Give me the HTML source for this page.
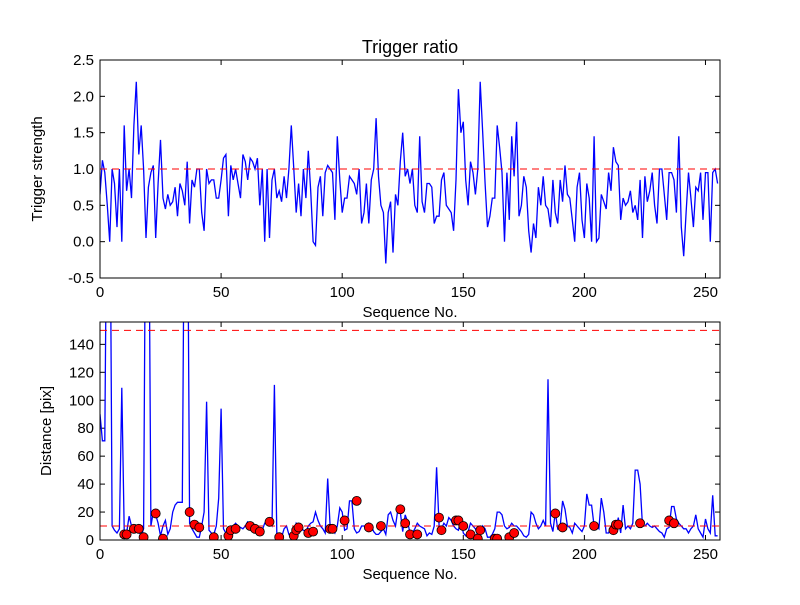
<!DOCTYPE html>
<html><head><meta charset="utf-8"><style>
body{margin:0;background:#fff}
svg{font-family:"Liberation Sans",sans-serif}
</style></head><body>
<svg id="chart" width="800" height="600" viewBox="0 0 800 600">
<rect width="800" height="600" fill="#fff"/>
</svg>
<script>
const trigStrength=[0.65,1.12,0.95,0.5,0.0,1.0,0.8,0.2,1.0,0.0,1.6,0.7,1.0,0.6,1.6,2.2,1.2,1.6,1.0,0.05,0.75,0.95,1.05,0.05,0.8,1.4,0.6,0.45,0.65,0.5,0.55,0.75,0.35,0.8,0.7,0.5,1.1,0.25,0.85,0.75,1.0,1.0,0.4,0.15,1.0,0.8,0.85,0.85,0.6,0.6,0.85,1.15,1.2,0.35,1.05,0.85,1.0,0.8,0.6,1.2,1.1,0.85,1.15,1.1,
1.0,1.15,0.5,1.0,0.0,1.0,0.05,0.85,1.0,0.6,0.7,0.55,0.9,0.6,1.0,1.6,1.0,0.4,0.8,0.35,1.0,0.6,1.25,0.7,0.0,-0.05,0.75,0.9,0.35,0.95,1.05,1.0,0.95,0.3,1.45,0.85,0.4,0.6,0.6,0.9,0.85,0.8,0.65,1.0,0.25,0.4,0.8,0.25,0.85,1.0,1.7,0.9,0.5,0.4,-0.3,0.4,0.55,-0.15,0.65,0.5,1.1,1.5,0.9,1.0,
0.8,1.0,0.5,0.4,1.45,0.55,0.4,0.8,0.8,0.75,0.25,0.35,0.35,0.85,0.95,0.5,0.45,0.4,0.15,0.85,2.1,1.5,1.65,0.85,0.5,1.1,0.95,0.65,1.0,2.2,1.5,0.8,0.2,0.35,0.6,0.6,1.6,1.3,0.95,0.0,0.95,0.3,1.45,0.9,1.65,0.35,0.5,0.9,0.75,0.15,-0.15,0.25,0.05,0.75,0.5,0.9,0.5,0.45,0.2,0.85,0.4,0.25,0.85,0.55,
1.05,0.65,0.6,0.3,0.0,0.75,0.95,0.3,0.05,0.8,0.6,0.0,1.45,0.0,0.05,0.65,0.55,0.45,0.95,0.7,1.3,1.1,1.05,0.3,0.6,0.5,0.55,0.7,0.4,0.5,0.3,0.85,0.05,0.9,0.55,0.7,0.95,0.5,0.25,1.0,1.0,0.65,0.3,0.95,0.95,0.85,0.4,1.45,0.2,-0.2,0.4,0.95,0.6,0.2,0.75,0.7,0.95,0.3,0.95,0.95,0.0,0.95,1.0,0.8];
const distance=[90,71,71,300,300,10,7,5,8,109,7,5,17,10,9,7,6,3,8,300,300,10,20,18,12,3,10,14,4,8,20,25,27,27,27,300,300,12,8,5,2,2,10,20,99,7,5,4,10,30,94,8,5,7,10,10,12,10,9,8,10,13,12,10,
10,9,8,7,12,14,12,10,111,5,4,2,8,10,4,2,3,12,10,8,7,6,10,12,13,20,14,10,8,5,44,10,8,5,10,23,20,7,8,28,28,8,5,6,10,10,8,12,10,6,4,4,6,8,4,18,20,14,10,22,20,6,18,13,
5,5,8,12,10,9,8,3,5,4,10,52,10,8,12,10,16,14,10,8,7,15,5,3,6,12,10,8,3,3,10,8,2,2,4,8,20,20,18,10,8,9,12,10,10,8,6,3,2,4,20,18,12,8,10,14,10,115,12,6,20,8,10,28,22,10,
9,5,12,10,8,6,10,33,25,25,10,10,8,30,20,5,5,10,12,8,16,5,25,8,10,8,12,50,50,40,10,10,12,10,9,10,8,6,5,2,8,9,24,24,15,12,10,8,8,5,8,10,18,8,5,2,15,8,5,32,3,3];
const detIdx=[10,11,14,16,18,23,26,37,39,41,47,53,54,56,62,64,66,70,74,80,81,82,86,88,95,96,101,106,111,116,124,126,128,131,140,141,147,148,150,153,156,157,163,164,169,171,188,191,204,212,213,214,223,235,237];
const detVal=[4,4,8,8,2,19,1,20,11,9,2,3,7,8,10,8,6,13,2,3,7,9,5,6,8,8,14,28,9,10,22,12,4,4,16,7,14,14,10,4,1,7,1,1,2,5,19,9,10,7,11,11,12,14,12];
const xTicks=[0,50,100,150,200,250];
const topYTicks=[-0.5,0.0,0.5,1.0,1.5,2.0,2.5];
const botYTicks=[0,20,40,60,80,100,120,140];

const NS='http://www.w3.org/2000/svg';
const svg=document.getElementById('chart');
function mk(tag,attrs,parent){const e=document.createElementNS(NS,tag);for(const k in attrs)e.setAttribute(k,attrs[k]);(parent||svg).appendChild(e);return e;}
const L=100,R=720;
const xs=v=>L+(v/256)*(R-L);
function panel(top,bot,ymin,ymax,ticks,fmt,ylabel,name,ylx){
  const ys=v=>bot-(v-ymin)/(ymax-ymin)*(bot-top);
  const g=mk('g',{});
  
  
  const cp=mk('clipPath',{id:'cp-'+name},g);mk('rect',{x:L,y:top,width:R-L,height:bot-top},cp);
  xTicks.forEach(t=>{
    const x=xs(t);
    mk('line',{x1:x,x2:x,y1:bot,y2:bot-5,stroke:'#000'},g);
    mk('line',{x1:x,x2:x,y1:top,y2:top+5,stroke:'#000'},g);
    const tx=mk('text',{x:x,y:bot+19,'text-anchor':'middle','font-size':15},g);tx.textContent=t;
    
    
  });
  ticks.forEach(t=>{
    const y=ys(t);
    mk('line',{x1:L,x2:L+5,y1:y,y2:y,stroke:'#000'},g);
    mk('line',{x1:R,x2:R-5,y1:y,y2:y,stroke:'#000'},g);
    const tx=mk('text',{x:L-6,y:y+5,'text-anchor':'end','font-size':15},g);tx.textContent=fmt(t);
    
    
  });
  const xl=mk('text',{x:(L+R)/2,y:bot+39,'text-anchor':'middle','font-size':15},g);xl.textContent='Sequence No.';
  
  
  const yl=mk('text',{x:0,y:0,'text-anchor':'middle','font-size':15,transform:`translate(${ylx},${(top+bot)/2}) rotate(-90)`},g);yl.textContent=ylabel;
  
  
  return {ys,g};
}
const p1=panel(60,278,-0.5,2.5,topYTicks,v=>v.toFixed(1),'Trigger strength','top-panel',42);
const p2=panel(322,540,0,156,botYTicks,v=>String(v),'Distance [pix]','bottom-panel',51);
let d=trigStrength.map((v,i)=>(i?'L':'M')+xs(i).toFixed(1)+','+p1.ys(v).toFixed(1)).join('');
const l1=mk('path',{d,fill:'none',stroke:'#00f','stroke-width':1.3,'clip-path':'url(#cp-top-panel)'},p1.g);


const th1=mk('line',{x1:L,x2:R,y1:p1.ys(1),y2:p1.ys(1),stroke:'#f00','stroke-dasharray':'7,5'},p1.g);


d=distance.map((v,i)=>(i?'L':'M')+xs(i).toFixed(1)+','+p2.ys(v).toFixed(1)).join('');
const l2=mk('path',{d,fill:'none',stroke:'#00f','stroke-width':1.3,'clip-path':'url(#cp-bottom-panel)'},p2.g);


[10,150].forEach(v=>{
  const t=mk('line',{x1:L,x2:R,y1:p2.ys(v),y2:p2.ys(v),stroke:'#f00','stroke-dasharray':'7,5'},p2.g);
  
  
});
detIdx.forEach((ix,k)=>{
  const c=mk('circle',{cx:xs(ix),cy:p2.ys(detVal[k]),r:4.5,fill:'#f00',stroke:'#000','stroke-width':0.8,'clip-path':'url(#cp-bottom-panel)'},p2.g);
  
  
});
[[60,278],[322,540]].forEach(([t,b])=>{
  const r=mk('rect',{x:L,y:t,width:R-L,height:b-t,fill:'none',stroke:'#000','stroke-width':1});
  
  
});
const title=mk('text',{x:(L+R)/2,y:53,'text-anchor':'middle','font-size':18});title.textContent='Trigger ratio';


</script>
</body></html>
